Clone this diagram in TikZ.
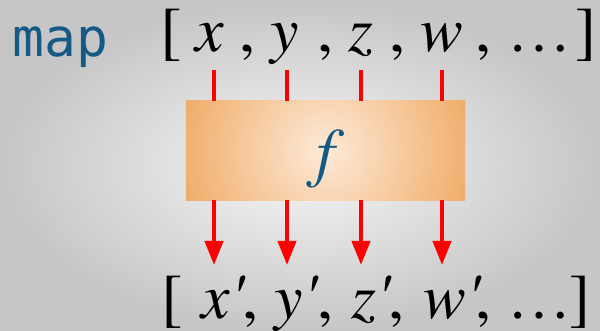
\documentclass[tikz,border=0pt]{standalone}
\usepackage{fontspec}
\newfontfamily\tnr{TeX Gyre Termes}
\newfontfamily\mapfont{DejaVu Sans Mono}
\usetikzlibrary{arrows.meta}
\definecolor{teal1}{RGB}{20,90,132}
\definecolor{bgin}{RGB}{246,246,246}
\definecolor{bgout}{RGB}{198,198,198}
\definecolor{boxin}{RGB}{253,234,216}
\definecolor{boxout}{RGB}{240,172,104}
\tikzset{
  sym/.style={inner sep=0pt, anchor=base, font=\tnr\fontsize{64}{64}\selectfont\itshape},
  upsym/.style={inner sep=0pt, anchor=base, font=\tnr\fontsize{64}{64}\selectfont},
  redline/.style={draw=red, line width=4pt},
  redarrow/.style={draw=red, line width=4pt, -{Triangle[width=18pt,length=24pt]}},
  fbox/.style={minimum width=279pt, minimum height=99pt, inner sep=0pt, fill=boxout},
}
\begin{document}
\begin{tikzpicture}[x=1pt,y=-1pt]
\useasboundingbox (0,0) rectangle (600,331);
\shade[inner color=bgin, outer color=bgout] (0,0) rectangle (600,331);
% map label
\node[inner sep=0pt, anchor=base west, text=teal1, font=\fontsize{53}{53}\selectfont\mapfont] (map) at (12,57) {map};
% top list
\node[upsym] (tl) at (171,52) {[};
\node[sym] (x) at (210,52) {x};
\node[upsym] (c1) at (247,52) {,};
\node[sym] (y) at (285,52) {y};
\node[upsym] (c2) at (325,52) {,};
\node[sym] (z) at (361,52) {z};
\node[upsym] (c3) at (397,52) {,};
\node[sym] (w) at (442,52) {w};
\node[upsym] (c4) at (483,52) {,};
\node[upsym] (d1) at (539,52) {…};
\node[upsym] (tr) at (586,52) {]};
% box
\node[fbox] (box) at (325.5,150.5) {};
\begin{scope}
\clip (box.south west) rectangle (box.north east);
\shade[inner color=boxin, outer color=boxout] (box.center) circle (150);
\end{scope}
\node[inner sep=0pt, anchor=base, text=teal1, font=\tnr\fontsize{66}{66}\selectfont\itshape] (f) at (326,175) {f};
% connectors
\coordinate (t1) at (214,70);
\coordinate (t2) at (287,70);
\coordinate (t3) at (361,70);
\coordinate (t4) at (442,70);
\coordinate (b1) at (214,265);
\coordinate (b2) at (287,265);
\coordinate (b3) at (361,265);
\coordinate (b4) at (442,265);
\foreach \i in {1,2,3,4}{
  \draw[redline] (t\i) -- (t\i |- box.north);
  \draw[redarrow] (b\i |- box.south) -- (b\i);
}
% bottom list
\node[upsym] (bl) at (172,318) {[};
\node[sym] (xp) at (223,318) {x'};
\node[upsym] (e1) at (250,318) {,};
\node[sym] (yp) at (296,318) {y'};
\node[upsym] (e2) at (325,318) {,};
\node[sym] (zp) at (371,318) {z'};
\node[upsym] (e3) at (396,318) {,};
\node[sym] (wp) at (452,318) {w'};
\node[upsym] (e4) at (483,318) {,};
\node[upsym] (d2) at (539,318) {…};
\node[upsym] (br) at (580,318) {]};
\end{tikzpicture}
\end{document}
